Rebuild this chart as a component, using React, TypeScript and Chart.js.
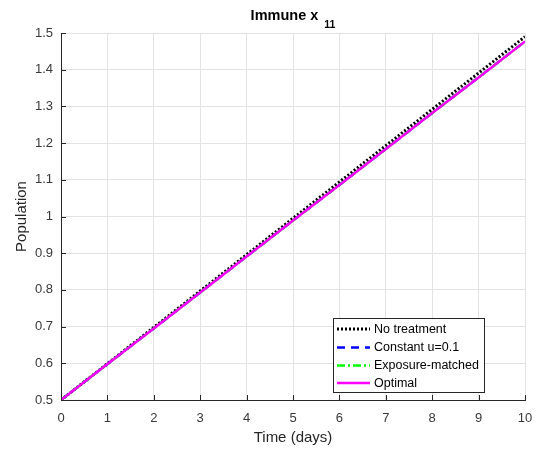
import React, { useEffect, useRef } from "react";
import { Chart, registerables } from "chart.js";

Chart.register(...registerables);

const days = [0, 1, 2, 3, 4, 5, 6, 7, 8, 9, 10];
const noTreatment = [0.5, 0.599, 0.698, 0.797, 0.896, 0.995, 1.094, 1.193, 1.292, 1.391, 1.49];
const constantU = [0.5, 0.598, 0.695, 0.793, 0.891, 0.989, 1.086, 1.184, 1.282, 1.379, 1.477];
const exposureMatched = [0.5, 0.598, 0.695, 0.793, 0.891, 0.989, 1.086, 1.184, 1.282, 1.379, 1.477];
const optimal = [0.5, 0.598, 0.695, 0.793, 0.891, 0.989, 1.086, 1.184, 1.282, 1.379, 1.477];
const seriesNames = ["No treatment", "Constant u=0.1", "Exposure-matched", "Optimal"];
const xTicks = [0, 1, 2, 3, 4, 5, 6, 7, 8, 9, 10];
const yTicks = [0.5, 0.6, 0.7, 0.8, 0.9, 1, 1.1, 1.2, 1.3, 1.4, 1.5];

const FONT = "'Liberation Sans', Arial, Helvetica, sans-serif";
const colors = ["#000000", "#0000ff", "#00ff00", "#ff00ff"];
const dashes = [[2, 2], [8, 6], [8, 3, 2, 3], []];
const widths = [3, 2.5, 2.5, 2.5];

const toPts = (ys: number[]) => days.map((d, i) => ({ x: d, y: ys[i] }));

const decorPlugin = {
  id: "decor",
  afterDraw(chart: any) {
    const ctx = chart.ctx as CanvasRenderingContext2D;
    const { left, right, top, bottom } = chart.chartArea;
    const xs = chart.scales.x;
    const ys = chart.scales.y;
    ctx.save();
    // inward ticks
    ctx.strokeStyle = "#262626";
    ctx.lineWidth = 1;
    ctx.beginPath();
    xTicks.forEach((t) => {
      const px = Math.round(xs.getPixelForValue(t)) + 0.5;
      ctx.moveTo(px, bottom);
      ctx.lineTo(px, bottom - 5);
    });
    yTicks.forEach((t) => {
      const py = Math.round(ys.getPixelForValue(t)) + 0.5;
      ctx.moveTo(left, py);
      ctx.lineTo(left + 5, py);
    });
    ctx.stroke();

    // title
    ctx.fillStyle = "#000";
    ctx.textBaseline = "alphabetic";
    ctx.font = `bold 14.5px ${FONT}`;
    const main = "Immune x";
    const wMain = ctx.measureText(main).width;
    ctx.font = `bold 10.5px ${FONT}`;
    const wSub = ctx.measureText("11").width;
    const gap = 6;
    const total = wMain + gap + wSub;
    const cx = (left + right) / 2;
    const sx = cx - total / 2;
    ctx.font = `bold 14.5px ${FONT}`;
    ctx.textAlign = "left";
    ctx.fillText(main, sx, 20);
    ctx.font = `bold 10.5px ${FONT}`;
    ctx.fillText("11", sx + wMain + gap, 27.5);

    // axis titles
    ctx.fillStyle = "#262626";
    ctx.font = `15px ${FONT}`;
    ctx.textAlign = "center";
    ctx.textBaseline = "middle";
    ctx.fillText("Time (days)", cx, 438);
    ctx.save();
    ctx.translate(22, (top + bottom) / 2);
    ctx.rotate(-Math.PI / 2);
    ctx.fillText("Population", 0, 0);
    ctx.restore();

    // legend
    const lx = 333, ly = 318, lw = 151, lh = 74;
    ctx.fillStyle = "#ffffff";
    ctx.fillRect(lx, ly, lw, lh);
    ctx.strokeStyle = "#262626";
    ctx.lineWidth = 1;
    ctx.strokeRect(lx + 0.5, ly + 0.5, lw, lh);
    const rows = [329, 347.5, 365.5, 383];
    ctx.font = `12.5px ${FONT}`;
    ctx.textAlign = "left";
    ctx.textBaseline = "middle";
    seriesNames.forEach((name, i) => {
      ctx.strokeStyle = colors[i];
      ctx.lineWidth = widths[i];
      ctx.setLineDash(dashes[i]);
      ctx.beginPath();
      ctx.moveTo(337, rows[i]);
      ctx.lineTo(370, rows[i]);
      ctx.stroke();
      ctx.setLineDash([]);
      ctx.fillStyle = "#000";
      ctx.fillText(name, 374, rows[i] + 0.5);
    });
    ctx.restore();
  },
};

export default function App() {
  const ref = useRef<HTMLCanvasElement | null>(null);
  useEffect(() => {
    document.body.style.margin = "0";
    const canvas = ref.current;
    if (!canvas) return;
    const all = [noTreatment, constantU, exposureMatched, optimal];
    const chart = new Chart(canvas, {
      type: "line",
      data: {
        datasets: all.map((s, i) => ({
          label: seriesNames[i],
          data: toPts(s),
          borderColor: colors[i],
          backgroundColor: colors[i],
          borderWidth: widths[i],
          borderDash: dashes[i],
          pointRadius: 0,
          fill: false,
          tension: 0,
          order: 4 - i,
        })),
      },
      options: {
        animation: false,
        responsive: false,
        devicePixelRatio: 1,
        layout: { padding: { top: 33, right: 25, left: 0, bottom: 0 } },
        plugins: {
          legend: { display: false },
          title: { display: false },
          tooltip: { enabled: false },
        },
        scales: {
          x: {
            type: "linear",
            min: 0,
            max: 10,
            afterFit: (s: any) => {
              s.height = 56;
            },
            afterBuildTicks: (s: any) => {
              s.ticks = xTicks.map((v) => ({ value: v }));
            },
            grid: { color: "#e3e3e3", drawTicks: false, lineWidth: 1 },
            border: { color: "#262626", width: 1 },
            ticks: {
              padding: 11,
              color: "#383838",
              font: { family: FONT, size: 13 },
              maxRotation: 0,
              callback: (v: any) => String(Number(Number(v).toFixed(1))),
            },
          },
          y: {
            type: "linear",
            min: 0.5,
            max: 1.5,
            afterFit: (s: any) => {
              s.width = 61;
            },
            afterBuildTicks: (s: any) => {
              s.ticks = yTicks.map((v) => ({ value: v }));
            },
            grid: { color: "#e3e3e3", drawTicks: false, lineWidth: 1 },
            border: { color: "#262626", width: 1 },
            ticks: {
              padding: 8,
              color: "#383838",
              font: { family: FONT, size: 13 },
              callback: (v: any) => String(Number(Number(v).toFixed(1))),
            },
          },
        },
      },
      plugins: [decorPlugin],
    });
    return () => chart.destroy();
  }, []);
  return (
    <div style={{ width: 550, height: 456, background: "#fff" }}>
      <canvas ref={ref} width={550} height={456} style={{ display: "block" }} />
    </div>
  );
}
